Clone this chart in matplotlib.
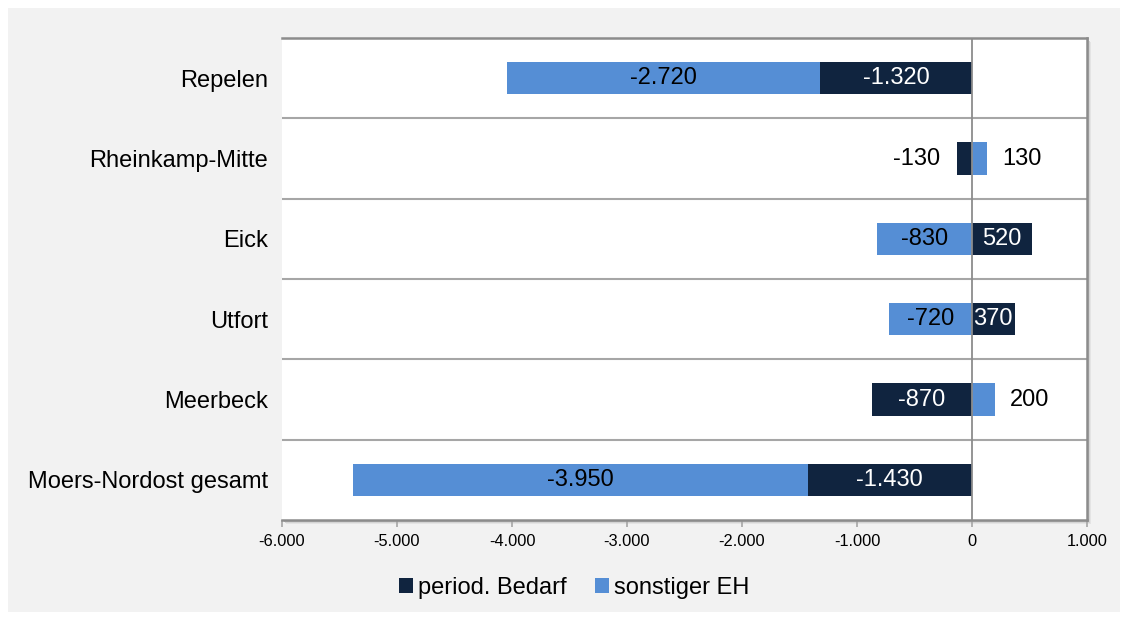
import matplotlib
matplotlib.use("Agg")
import matplotlib.pyplot as plt
from matplotlib.patches import Rectangle
import numpy as np

categories = ["Repelen", "Rheinkamp-Mitte", "Eick", "Utfort", "Meerbeck", "Moers-Nordost gesamt"]
period_bedarf = [-1320, -130, 520, 370, -870, -1430]
sonstiger_eh = [-2720, 130, -830, -720, 200, -3950]
xticks = [-6000, -5000, -4000, -3000, -2000, -1000, 0, 1000]

DARK = "#10243f"
LIGHT = "#558ed5"
GRID = "#a6a6a6"
FS = 17

plt.rcParams['font.family'] = ['Liberation Sans', 'DejaVu Sans']

fig = plt.figure(figsize=(11.28, 6.2), dpi=100)
fig.patch.set_facecolor("white")
fig.patches.append(Rectangle((8/1128, 8/620), 1112/1128, 604/620,
                             transform=fig.transFigure, facecolor="#f2f2f2",
                             edgecolor="none", zorder=-10))
# soft shadow behind plot area
for k, c in enumerate(["#e4e4e4", "#d4d4d4", "#c4c4c4"]):
    off = 4 - k
    fig.patches.append(Rectangle(((282 + off)/1128, 1 - (520 + off)/620), (1087 - 282)/1128, (520 - 38)/620,
                                 transform=fig.transFigure, facecolor=c, edgecolor="none", zorder=-9 + k))

ax = fig.add_axes([282/1128, 1 - 520/620, (1087 - 282)/1128, (520 - 38)/620])
ax.set_facecolor("white")

def fmt(v):
    s = f"{abs(int(v)):,}".replace(",", ".")
    return ("-" if v < 0 else "") + s

y = np.arange(len(categories))
h = 0.4
light_left = [d if np.sign(d) == np.sign(l) else 0 for d, l in zip(period_bedarf, sonstiger_eh)]

bd = ax.barh(y, period_bedarf, height=h, color=DARK, label="period. Bedarf", zorder=3)
bl = ax.barh(y, sonstiger_eh, left=light_left, height=h, color=LIGHT, label="sonstiger EH", zorder=3)

def label(vals, lefts, color):
    for i, (v, lft) in enumerate(zip(vals, lefts)):
        if abs(v) <= 200:
            end = lft + v
            if v < 0:
                ax.text(end - 145, i, fmt(v), ha="right", va="center", fontsize=FS, color="black", zorder=5)
            else:
                ax.text(end + 130, i, fmt(v), ha="left", va="center", fontsize=FS, color="black", zorder=5)
        else:
            ax.text(lft + v / 2, i, fmt(v), ha="center", va="center", fontsize=FS, color=color, zorder=5)

label(period_bedarf, [0] * len(period_bedarf), "white")
label(sonstiger_eh, light_left, "black")

ax.set_xlim(-6000, 1000)
ax.set_ylim(len(categories) - 0.5, -0.5)
ax.set_yticks(y)
ax.set_yticklabels(categories, fontsize=FS)
ax.tick_params(axis="y", length=0, pad=10)
ax.set_xticks(xticks)
ax.set_xticklabels([fmt(t) for t in xticks], fontsize=11.8)
ax.tick_params(axis="x", length=5, color=GRID, width=1.2, direction="out", pad=5)

for b in np.arange(0.5, len(categories) - 0.5, 1):
    ax.axhline(b, color=GRID, lw=1.5, zorder=1)
ax.axvline(0, color="#8c8c8c", lw=1.3, zorder=4)

ax.spines["left"].set_visible(False)
for s in ["top", "right", "bottom"]:
    ax.spines[s].set_color("#8c8c8c")
    ax.spines[s].set_linewidth(1.8)

leg = fig.legend(handles=[bd, bl], loc="center", bbox_to_anchor=(574/1128, 1 - 588/620),
                 ncol=2, frameon=False, fontsize=FS, handlelength=0.6, handleheight=0.6,
                 handletextpad=0.2, columnspacing=1.2)

fig.savefig("out.png", dpi=100, facecolor=fig.get_facecolor())
